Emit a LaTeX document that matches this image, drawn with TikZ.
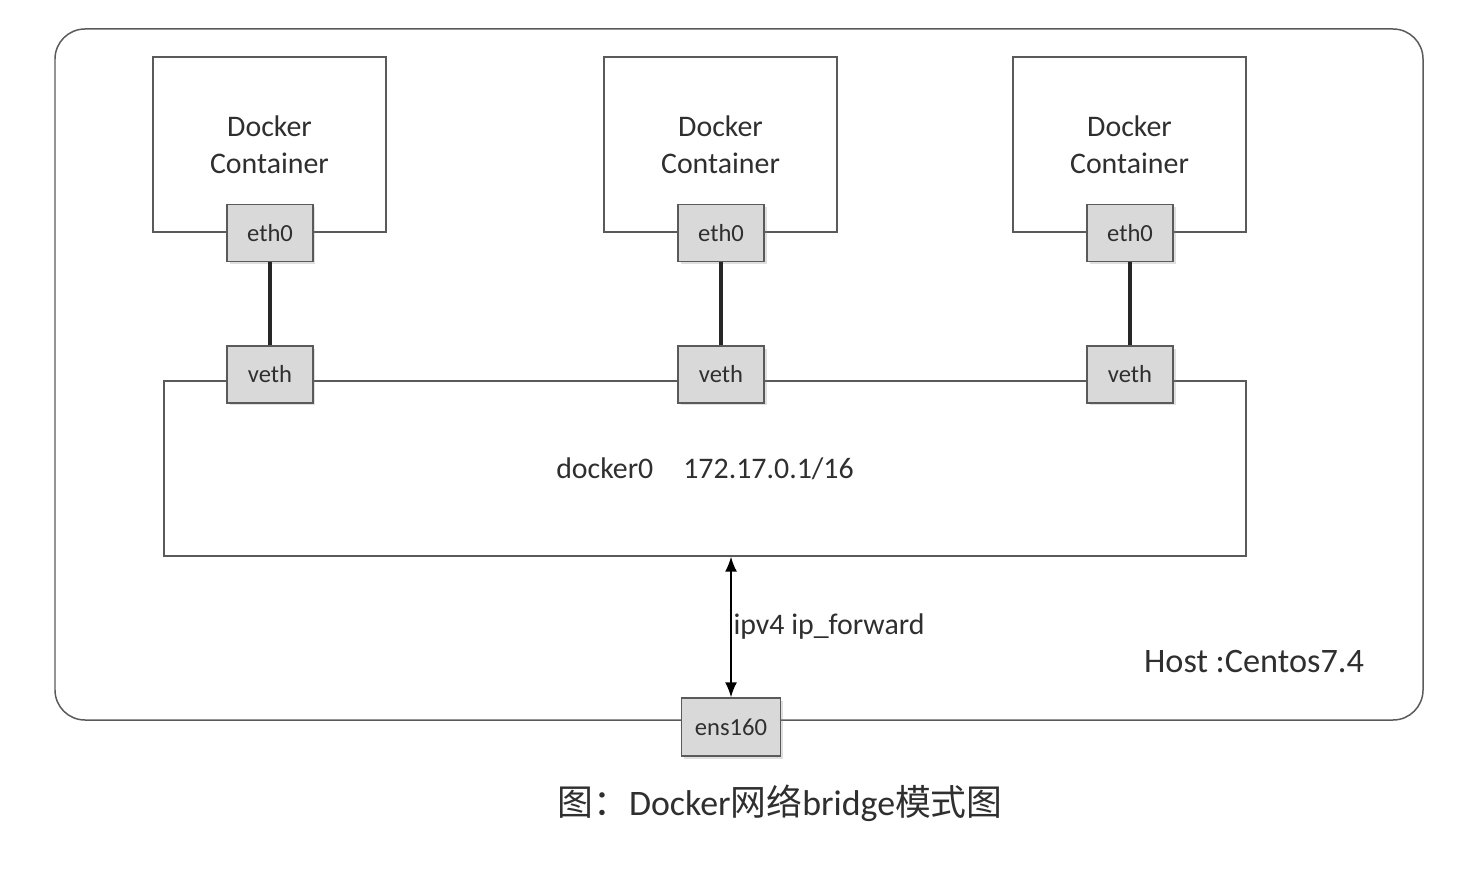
\documentclass[tikz,border=0pt]{standalone}
\usepackage{fontspec}
\setmainfont{Carlito}
\newfontfamily\cjk{Noto Sans CJK SC}
\usetikzlibrary{arrows.meta, shadows}
\definecolor{linegray}{HTML}{5A5A5A}
\definecolor{boxgray}{HTML}{D9D9D9}
\definecolor{txtgray}{HTML}{2F2F2F}

\begin{document}
\begin{tikzpicture}[x=0.02cm, y=-0.02cm,
		container/.style={draw=linegray, line width=0.85pt, rectangle, minimum width=4.66cm, minimum height=3.5cm, align=center, text=txtgray, font=\fontsize{17}{21}\selectfont},
		port/.style={draw=linegray, line width=0.85pt, fill=boxgray, rectangle, inner sep=0pt, minimum width=1.72cm, minimum height=1.14cm, text=txtgray, font=\fontsize{14}{16}\selectfont, drop shadow={opacity=0.25, shadow xshift=0.05cm, shadow yshift=-0.05cm}},
		link/.style={line width=2.3pt, draw=black!85},
		label/.style={text=txtgray, inner sep=1pt}]
			\useasboundingbox (0,0) rectangle (1466,878);
			\draw [draw=linegray, line width=0.85pt, rounded corners=0.6cm] (55,29) rectangle (1423,720);
			% bridge and containers
			\node [container] (cA) at (269.5,144.5) {Docker\\Container};
			\node [container] (cB) at (720.5,144.5) {Docker\\Container};
			\node [container] (cC) at (1129.5,144.5) {Docker\\Container};
			\node [container, minimum width=21.64cm] (bridge) at (705,468.5) {docker0\hspace{0.6cm}172.17.0.1/16};
			% veth pairs
			\foreach \c/\x in {A/270, B/721, C/1130} {
				\node [port] (eth\c) at (\x,233) {eth0};
				\node [port] (veth\c) at (\x,374.5) {veth};
				\draw [link] (eth\c.south) -- (veth\c.north);
			}
			% uplink
			\node [port, minimum width=1.98cm, minimum height=1.16cm] (ens) at (731,727) {ens160};
			\draw [{Latex[length=0.3cm,width=0.24cm]}-{Latex[length=0.3cm,width=0.24cm]}, line width=0.85pt] (bridge.south -| ens.north) -- (ens.north) node [midway, right, label, font=\fontsize{17}{20}\selectfont] (fwd) {ipv4 ip\_forward};
			\node [label, font=\fontsize{19.5}{22}\selectfont] (host) at (1254,662) {Host :Centos7.4};
			\node [label, font=\fontsize{20.4}{24}\selectfont] (caption) at (780,803) {{\cjk 图：}Docker{\cjk 网络}bridge{\cjk 模式图}};
		\end{tikzpicture}
\end{document}
